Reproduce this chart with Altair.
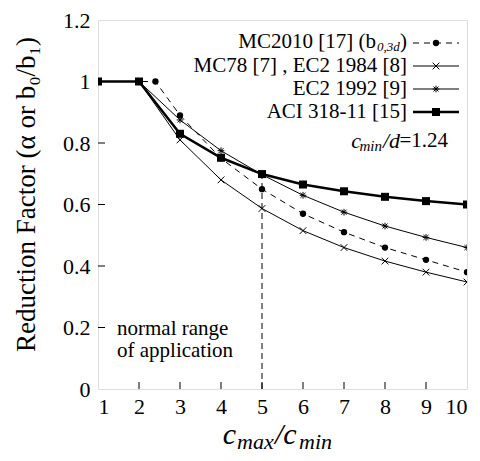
import altair as alt
import pandas as pd

# ---- data ----
x_vals = [1, 2, 3, 4, 5, 6, 7, 8, 9, 10]
mc2010_x = [1, 2, 2.4, 3, 4, 5, 6, 7, 8, 9, 10]
mc2010_y = [1.0, 1.0, 1.0, 0.89, 0.75, 0.65, 0.57, 0.51, 0.46, 0.42, 0.38]
mc78_y = [1.0, 1.0, 0.81, 0.68, 0.587, 0.515, 0.46, 0.416, 0.38, 0.348]
ec92_y = [1.0, 1.0, 0.875, 0.775, 0.697, 0.63, 0.575, 0.53, 0.493, 0.46]
aci_y = [1.0, 1.0, 0.83, 0.752, 0.699, 0.665, 0.643, 0.625, 0.611, 0.60]

legend_labels = ["MC2010 [17] (b", "MC78 [7] , EC2 1984 [8]", "EC2 1992 [9]", "ACI 318-11 [15]"]
x_ticks = [2, 3, 4, 5, 6, 7, 8, 9]
y_ticks = [0.2, 0.4, 0.6, 0.8, 1.0]
range_line_x = [5]
range_line_y = [0.0]
range_line_y2 = [0.70]

W, H = 369, 369
FONT = "'Liberation Serif', 'Times New Roman', 'DejaVu Serif', serif"

xs = alt.Scale(domain=[1, 10], nice=False, zero=False)
ys = alt.Scale(domain=[0, 1.2], nice=False, zero=False)

X_PATH = "M-1,-1L1,1M-1,1L1,-1"
STAR_PATH = "M-1,0L1,0M0,-1L0,1M-0.75,-0.75L0.75,0.75M-0.75,0.75L0.75,-0.75"


def txt(t, x, y, size=20, align="right", baseline="middle", style="normal"):
    return alt.Chart(pd.DataFrame({"t": [t]})).mark_text(
        font=FONT, fontSize=size, align=align, baseline=baseline, color="black", fontStyle=style
    ).encode(text="t:N", x=alt.value(x), y=alt.value(y))


def series(xv, yv, dash, width, shape, size, filled, row):
    df = pd.DataFrame({"x": xv, "y": yv})
    base = alt.Chart(df)
    line_kw = dict(color="black", strokeWidth=width, clip=True)
    if dash:
        line_kw["strokeDash"] = dash
    line = base.mark_line(**line_kw).encode(
        x=alt.X("x:Q", scale=xs, axis=alt.Axis(values=x_vals, format="d", ticks=False, domain=False,
                                             grid=False, labelFontSize=22, labelFont=FONT, labelPadding=7,
                                             labelColor="black", title=None)),
        y=alt.Y("y:Q", scale=ys, axis=alt.Axis(values=[0, 0.2, 0.4, 0.6, 0.8, 1, 1.2],
                                             labelExpr="format(datum.value, '.1~f')", ticks=False,
                                             domain=False, grid=False, labelFontSize=22, labelFont=FONT,
                                             labelPadding=8, labelColor="black",
                                             title="Reduction Factor (α or b₀/b₁)", titleFont=FONT,
                                             titleFontSize=27, titleFontWeight="normal",
                                             titleX=-72, titleY=174, titleBaseline="middle",
                                             titleAlign="center", titleAngle=270,
                                             titleColor="black")),
    )
    pt_kw = dict(shape=shape, size=size, color="black", opacity=1, clip=True)
    if filled:
        pt_kw.update(filled=True)
    else:
        pt_kw.update(filled=False, strokeWidth=1)
    pts = base.mark_point(**pt_kw).encode(x=alt.X("x:Q", scale=xs), y=alt.Y("y:Q", scale=ys))

    ly = 23 + 23 * row
    lbase = alt.Chart(pd.DataFrame({"r": [row]}))
    rule_kw = dict(color="black", strokeWidth=width)
    if dash:
        rule_kw["strokeDash"] = dash
    lrule = lbase.mark_rule(**rule_kw).encode(x=alt.value(315), x2=alt.value(361), y=alt.value(ly))
    lpt = lbase.mark_point(**pt_kw).encode(x=alt.value(338), y=alt.value(ly))
    return [line, pts, lrule, lpt]


layers = []
rows = [
    (mc2010_x, mc2010_y, [6, 5], 1, "circle", 40, True),
    (x_vals, mc78_y, None, 1, X_PATH, 45, False),
    (x_vals, ec92_y, None, 1, STAR_PATH, 45, False),
    (x_vals, aci_y, None, 2.5, "square", 64, True),
]
for i, (xv, yv, dash, wdt, shp, sz, fl) in enumerate(rows):
    layers += series(xv, yv, dash, wdt, shp, sz, fl, i)

# legend texts
for i, lab in enumerate(legend_labels):
    if i == 0:
        continue
    layers.append(txt(lab, 309, 23 + 23 * i, size=21))

# first legend label with subscript pieces
layers.append(txt(legend_labels[0], 278, 22, size=21))
layers.append(txt("0,3d", 279, 27, size=13, align="left", style="italic"))
layers.append(txt(")", 309, 22, size=21))

# c_min/d = 1.24
layers.append(txt("=1.24", 350, 121, size=21, align="right"))
layers.append(txt("/d", 302, 121, size=22, align="right", style="italic"))
layers.append(txt("min", 284, 126, size=15, align="right", style="italic"))
layers.append(txt("c", 263, 121, size=22, align="right", style="italic"))

# normal range annotation
layers.append(txt("normal range", 19, 315, size=21, align="left", baseline="alphabetic"))
layers.append(txt("of application", 19, 337, size=21, align="left", baseline="alphabetic"))

# x-axis title built from pieces: c_max / c_min
layers.append(txt("c", 138, 424, size=30, align="right", baseline="alphabetic", style="italic"))
layers.append(txt("max", 139, 429, size=22, align="left", baseline="alphabetic", style="italic"))
layers.append(txt("/c", 177, 424, size=30, align="left", baseline="alphabetic", style="italic"))
layers.append(txt("min", 201, 429, size=22, align="left", baseline="alphabetic", style="italic"))

# vertical dashed line at x=5
layers.append(alt.Chart(pd.DataFrame({"x": range_line_x, "y": range_line_y, "y2": range_line_y2})).mark_rule(
    color="black", strokeWidth=1, strokeDash=[6, 4]
).encode(x=alt.X("x:Q", scale=xs), y=alt.Y("y:Q", scale=ys), y2="y2:Q"))

# inward ticks
layers.append(alt.Chart(pd.DataFrame({"v": x_ticks})).mark_rule(color="black", strokeWidth=1).encode(
    x=alt.X("v:Q", scale=xs), y=alt.value(H), y2=alt.value(H - 7)))
layers.append(alt.Chart(pd.DataFrame({"v": y_ticks})).mark_rule(color="black", strokeWidth=1).encode(
    y=alt.Y("v:Q", scale=ys), x=alt.value(0), x2=alt.value(7)))

chart = alt.layer(*layers).properties(
    width=W, height=H,
    autosize=alt.AutoSizeParams(type="none"),
    padding={"left": 90, "top": 12, "right": 5, "bottom": 64},
).configure_view(stroke="black", strokeWidth=1.3).configure(background="white", font=FONT)

chart.save("out.html", embed_options={"renderer": "svg", "actions": False})
